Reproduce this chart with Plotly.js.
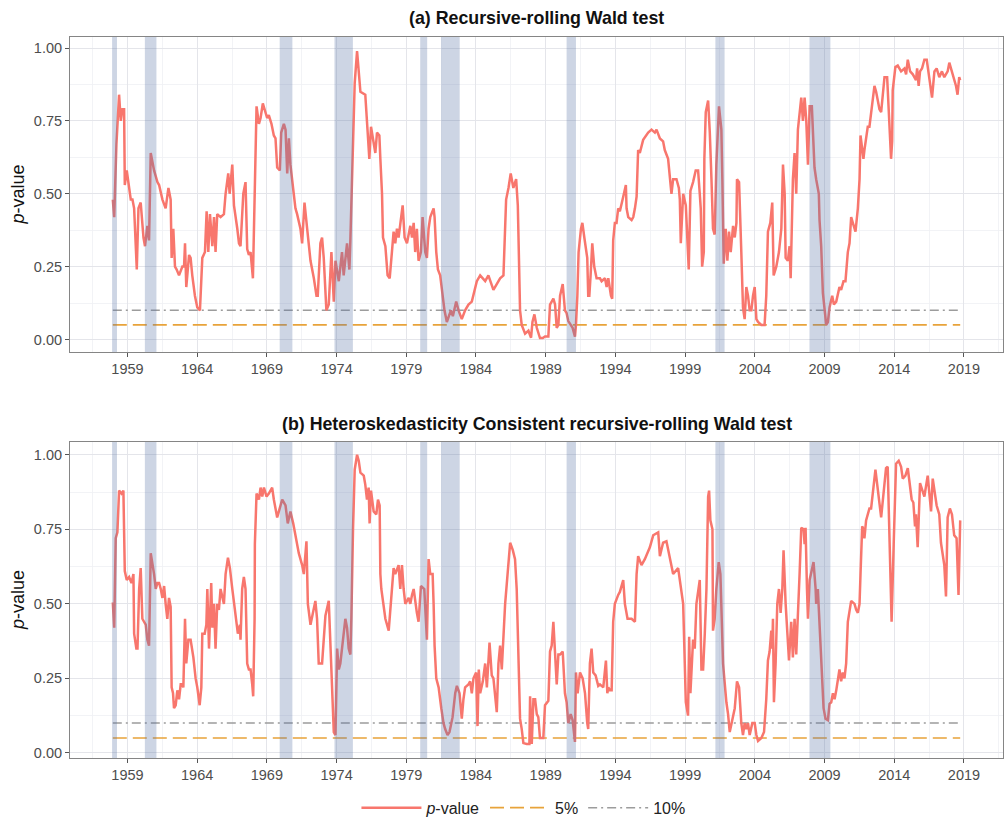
<!DOCTYPE html>
<html>
<head>
<meta charset="utf-8">
<script src="https://cdn.plot.ly/plotly-3.0.1.min.js"></script>
<style>html,body{margin:0;padding:0;background:#fff;}#chart{width:1004px;height:829px;}</style>
</head>
<body>
<div id="chart"></div>
<script>
// ---------- data ----------
const yearsA = [1957.95,1958.05,1958.21,1958.40,1958.52,1958.64,1958.76,1958.81,1958.95,1959.12,1959.24,1959.36,1959.48,1959.67,1959.79,1959.95,1960.15,1960.26,1960.43,1960.55,1960.67,1960.91,1961.15,1961.27,1961.51,1961.74,1961.94,1962.10,1962.17,1962.29,1962.41,1962.53,1962.70,1962.94,1963.06,1963.13,1963.22,1963.42,1963.53,1963.65,1963.84,1964.01,1964.20,1964.37,1964.49,1964.56,1964.68,1964.80,1964.92,1965.09,1965.21,1965.32,1965.44,1965.68,1965.92,1966.04,1966.23,1966.33,1966.52,1966.64,1966.88,1967.00,1967.11,1967.31,1967.47,1967.59,1967.71,1967.83,1968.00,1968.12,1968.26,1968.43,1968.55,1968.71,1968.90,1969.02,1969.14,1969.33,1969.50,1969.62,1969.74,1969.93,1970.03,1970.22,1970.34,1970.46,1970.58,1970.69,1970.93,1971.05,1971.17,1971.41,1971.53,1971.70,1971.89,1972.13,1972.37,1972.56,1972.65,1972.84,1972.96,1973.08,1973.27,1973.44,1973.63,1973.80,1973.92,1974.16,1974.39,1974.51,1974.75,1974.92,1974.99,1975.16,1975.30,1975.47,1975.59,1975.71,1976.06,1976.18,1976.35,1976.47,1976.61,1976.78,1976.90,1977.07,1977.14,1977.26,1977.33,1977.50,1977.66,1977.81,1977.97,1978.09,1978.21,1978.33,1978.45,1978.74,1978.88,1979.05,1979.29,1979.41,1979.53,1979.64,1979.76,1979.88,1980.05,1980.17,1980.36,1980.48,1980.60,1980.72,1980.96,1981.03,1981.15,1981.27,1981.43,1981.63,1981.74,1981.91,1982.03,1982.20,1982.34,1982.58,1982.75,1982.98,1983.22,1983.46,1983.70,1984.06,1984.30,1984.66,1984.89,1985.25,1985.49,1985.73,1985.97,1986.16,1986.33,1986.49,1986.68,1986.88,1987.00,1987.09,1987.16,1987.28,1987.52,1987.76,1987.95,1988.05,1988.19,1988.36,1988.47,1988.59,1988.79,1988.95,1989.19,1989.31,1989.55,1989.67,1989.79,1989.91,1990.03,1990.22,1990.38,1990.50,1990.62,1990.79,1990.93,1991.10,1991.17,1991.27,1991.36,1991.53,1991.63,1991.77,1991.89,1991.98,1992.05,1992.13,1992.22,1992.34,1992.48,1992.65,1992.89,1993.01,1993.25,1993.37,1993.49,1993.68,1993.77,1993.84,1993.96,1994.08,1994.20,1994.32,1994.56,1994.75,1994.80,1994.92,1995.16,1995.28,1995.40,1995.52,1995.63,1995.75,1995.99,1996.35,1996.59,1996.83,1996.95,1997.19,1997.42,1997.54,1997.78,1997.90,1998.02,1998.14,1998.38,1998.55,1998.62,1998.69,1998.86,1999.05,1999.26,1999.38,1999.57,1999.76,1999.93,2000.05,2000.12,2000.22,2000.34,2000.38,2000.48,2000.65,2000.77,2000.89,2001.00,2001.12,2001.24,2001.43,2001.60,2001.67,2001.77,2001.91,2002.03,2002.15,2002.27,2002.44,2002.56,2002.68,2002.72,2002.87,2002.91,2003.03,2003.15,2003.27,2003.39,2003.51,2003.63,2003.75,2003.87,2003.99,2004.11,2004.23,2004.47,2004.70,2004.82,2004.94,2005.11,2005.25,2005.35,2005.54,2005.73,2005.90,2006.02,2006.14,2006.21,2006.37,2006.49,2006.57,2006.73,2006.85,2006.97,2007.09,2007.33,2007.45,2007.57,2007.69,2007.81,2007.93,2008.09,2008.28,2008.40,2008.59,2008.64,2008.76,2008.88,2009.00,2009.12,2009.24,2009.36,2009.55,2009.67,2009.84,2009.95,2010.07,2010.19,2010.36,2010.50,2010.67,2010.79,2010.91,2011.03,2011.22,2011.39,2011.51,2011.58,2011.79,2011.86,2011.98,2012.10,2012.22,2012.46,2012.58,2012.70,2012.94,2013.06,2013.30,2013.49,2013.61,2013.77,2013.85,2013.89,2014.08,2014.25,2014.49,2014.73,2014.85,2014.97,2015.14,2015.33,2015.56,2015.64,2015.75,2015.85,2015.99,2016.16,2016.33,2016.52,2016.71,2016.88,2017.04,2017.23,2017.42,2017.59,2017.83,2017.95,2018.24,2018.43,2018.54,2018.66,2018.73];
const pA = [0.48,0.42,0.67,0.84,0.75,0.79,0.79,0.53,0.58,0.52,0.48,0.48,0.45,0.24,0.45,0.47,0.35,0.32,0.39,0.34,0.64,0.58,0.54,0.53,0.48,0.45,0.52,0.48,0.28,0.38,0.25,0.24,0.22,0.25,0.25,0.33,0.18,0.29,0.28,0.22,0.15,0.11,0.10,0.28,0.29,0.30,0.44,0.30,0.43,0.32,0.42,0.30,0.43,0.42,0.43,0.50,0.57,0.50,0.60,0.46,0.38,0.33,0.32,0.50,0.54,0.31,0.29,0.30,0.21,0.50,0.80,0.74,0.76,0.81,0.78,0.76,0.77,0.74,0.70,0.69,0.59,0.58,0.71,0.74,0.72,0.57,0.69,0.60,0.50,0.45,0.43,0.38,0.33,0.47,0.38,0.27,0.21,0.15,0.15,0.33,0.35,0.28,0.10,0.12,0.30,0.13,0.27,0.20,0.30,0.22,0.33,0.24,0.34,0.60,0.88,0.99,0.93,0.85,0.84,0.74,0.62,0.73,0.69,0.64,0.71,0.70,0.62,0.50,0.35,0.32,0.22,0.21,0.30,0.37,0.33,0.38,0.35,0.46,0.35,0.33,0.39,0.35,0.40,0.30,0.38,0.27,0.30,0.42,0.30,0.28,0.38,0.42,0.45,0.42,0.30,0.24,0.22,0.15,0.10,0.06,0.08,0.10,0.08,0.13,0.10,0.07,0.10,0.12,0.13,0.20,0.22,0.20,0.22,0.17,0.19,0.21,0.22,0.48,0.52,0.57,0.52,0.55,0.46,0.30,0.10,0.05,0.02,0.03,0.006,0.06,0.086,0.04,0.02,0.005,0.005,0.01,0.01,0.12,0.14,0.12,0.04,0.05,0.15,0.19,0.10,0.09,0.063,0.05,0.04,0.01,0.05,0.15,0.30,0.38,0.40,0.35,0.30,0.28,0.15,0.15,0.22,0.33,0.25,0.21,0.21,0.20,0.21,0.18,0.21,0.15,0.14,0.34,0.40,0.40,0.45,0.44,0.49,0.53,0.45,0.42,0.41,0.42,0.45,0.49,0.65,0.64,0.685,0.71,0.72,0.71,0.72,0.69,0.68,0.65,0.62,0.55,0.50,0.55,0.55,0.52,0.48,0.33,0.50,0.46,0.24,0.51,0.54,0.58,0.58,0.50,0.45,0.25,0.30,0.62,0.78,0.82,0.71,0.55,0.38,0.36,0.60,0.80,0.72,0.55,0.26,0.38,0.27,0.37,0.30,0.39,0.35,0.40,0.55,0.54,0.45,0.30,0.11,0.07,0.18,0.15,0.10,0.10,0.15,0.18,0.07,0.06,0.05,0.05,0.15,0.37,0.40,0.47,0.22,0.25,0.30,0.38,0.60,0.50,0.28,0.27,0.32,0.21,0.55,0.64,0.50,0.72,0.83,0.75,0.83,0.75,0.60,0.80,0.80,0.59,0.55,0.50,0.41,0.32,0.16,0.11,0.05,0.06,0.11,0.15,0.12,0.13,0.15,0.18,0.17,0.20,0.20,0.30,0.33,0.42,0.40,0.37,0.45,0.55,0.70,0.62,0.65,0.70,0.73,0.73,0.83,0.87,0.85,0.79,0.78,0.90,0.90,0.78,0.62,0.68,0.855,0.935,0.94,0.92,0.93,0.91,0.96,0.92,0.91,0.89,0.93,0.87,0.92,0.93,0.96,0.96,0.90,0.83,0.92,0.93,0.90,0.92,0.90,0.92,0.95,0.90,0.87,0.84,0.90,0.89];

const yearsB = [1957.95,1958.05,1958.16,1958.28,1958.40,1958.57,1958.71,1958.81,1958.95,1959.12,1959.29,1959.43,1959.48,1959.64,1959.72,1959.84,1959.95,1960.07,1960.19,1960.31,1960.43,1960.55,1960.67,1960.79,1960.91,1961.03,1961.15,1961.27,1961.39,1961.51,1961.63,1961.74,1961.86,1961.98,1962.10,1962.17,1962.27,1962.34,1962.46,1962.58,1962.70,1962.82,1962.94,1963.01,1963.13,1963.22,1963.37,1963.53,1963.73,1963.89,1964.01,1964.18,1964.30,1964.37,1964.54,1964.66,1964.73,1964.85,1964.92,1965.01,1965.09,1965.21,1965.32,1965.44,1965.56,1965.68,1965.92,1966.04,1966.21,1966.35,1966.52,1966.64,1966.76,1966.92,1967.07,1967.11,1967.23,1967.35,1967.47,1967.59,1967.71,1967.83,1967.95,1968.02,1968.12,1968.14,1968.26,1968.43,1968.55,1968.67,1968.79,1968.98,1969.14,1969.38,1969.50,1969.74,1970.10,1970.34,1970.50,1970.69,1970.89,1971.05,1971.29,1971.53,1971.65,1971.84,1971.94,1972.13,1972.32,1972.48,1972.60,1972.72,1972.96,1973.20,1973.44,1973.56,1973.68,1973.80,1973.92,1974.04,1974.16,1974.27,1974.39,1974.51,1974.63,1974.75,1974.87,1974.99,1975.06,1975.18,1975.30,1975.47,1975.59,1975.71,1975.95,1976.06,1976.18,1976.30,1976.37,1976.47,1976.54,1976.66,1976.85,1976.97,1977.09,1977.14,1977.21,1977.33,1977.50,1977.74,1977.86,1977.97,1978.09,1978.21,1978.45,1978.57,1978.69,1978.81,1978.93,1979.17,1979.29,1979.41,1979.53,1979.76,1979.88,1980.05,1980.29,1980.48,1980.60,1980.72,1980.89,1980.96,1981.03,1981.15,1981.32,1981.51,1981.67,1981.79,1981.96,1982.10,1982.20,1982.32,1982.51,1982.63,1982.82,1982.98,1983.10,1983.22,1983.46,1983.58,1983.70,1983.82,1984.01,1984.11,1984.20,1984.30,1984.49,1984.66,1984.78,1984.97,1985.13,1985.25,1985.49,1985.61,1985.73,1985.85,1986.09,1986.33,1986.45,1986.64,1986.80,1986.92,1987.04,1987.16,1987.28,1987.40,1987.64,1987.83,1987.88,1988.00,1988.12,1988.24,1988.36,1988.47,1988.59,1988.83,1988.95,1989.19,1989.31,1989.43,1989.55,1989.67,1989.79,1989.91,1990.03,1990.22,1990.38,1990.50,1990.62,1990.79,1990.93,1991.10,1991.17,1991.29,1991.46,1991.65,1991.82,1991.98,1992.05,1992.17,1992.29,1992.41,1992.58,1992.77,1992.89,1993.13,1993.32,1993.42,1993.49,1993.61,1993.73,1993.84,1993.96,1994.20,1994.32,1994.56,1994.68,1994.87,1995.16,1995.40,1995.52,1995.63,1995.87,1996.11,1996.47,1996.71,1997.07,1997.19,1997.42,1997.66,1997.78,1998.02,1998.14,1998.50,1998.74,1998.86,1999.05,1999.21,1999.29,1999.38,1999.57,1999.69,1999.81,1999.93,2000.05,2000.17,2000.29,2000.41,2000.53,2000.65,2000.72,2000.81,2000.96,2001.00,2001.12,2001.24,2001.41,2001.53,2001.60,2001.72,2001.96,2002.08,2002.20,2002.32,2002.44,2002.56,2002.72,2002.87,2003.03,2003.15,2003.27,2003.39,2003.51,2003.63,2003.82,2003.99,2004.11,2004.23,2004.47,2004.66,2004.82,2004.94,2005.06,2005.18,2005.25,2005.30,2005.37,2005.49,2005.61,2005.73,2005.85,2005.97,2006.06,2006.21,2006.45,2006.61,2006.73,2006.85,2006.97,2007.09,2007.21,2007.33,2007.50,2007.57,2007.64,2007.74,2007.81,2007.93,2008.09,2008.21,2008.36,2008.40,2008.52,2008.59,2008.69,2008.83,2008.93,2009.07,2009.24,2009.36,2009.48,2009.60,2009.72,2009.84,2010.07,2010.19,2010.31,2010.43,2010.55,2010.67,2010.79,2010.91,2011.15,2011.27,2011.39,2011.51,2011.58,2011.70,2011.79,2011.86,2011.98,2012.22,2012.34,2012.65,2013.06,2013.41,2013.53,2013.69,2013.81,2013.96,2014.13,2014.32,2014.49,2014.61,2014.80,2014.97,2015.14,2015.25,2015.37,2015.49,2015.56,2015.68,2015.85,2016.04,2016.16,2016.40,2016.52,2016.64,2016.76,2016.88,2017.04,2017.23,2017.35,2017.59,2017.71,2017.83,2017.99,2018.14,2018.30,2018.47,2018.61,2018.73];
const pB = [0.505,0.42,0.72,0.74,0.88,0.87,0.88,0.61,0.58,0.59,0.57,0.60,0.40,0.35,0.35,0.55,0.62,0.45,0.44,0.43,0.38,0.36,0.67,0.64,0.60,0.55,0.57,0.57,0.55,0.52,0.56,0.50,0.45,0.52,0.49,0.22,0.20,0.15,0.16,0.21,0.18,0.23,0.23,0.22,0.45,0.30,0.38,0.38,0.32,0.25,0.22,0.16,0.22,0.40,0.40,0.43,0.55,0.35,0.48,0.57,0.42,0.50,0.35,0.50,0.48,0.55,0.50,0.60,0.655,0.62,0.55,0.50,0.45,0.40,0.43,0.38,0.55,0.59,0.55,0.30,0.28,0.28,0.23,0.19,0.45,0.70,0.87,0.85,0.89,0.86,0.89,0.86,0.87,0.89,0.85,0.79,0.85,0.83,0.77,0.81,0.77,0.73,0.67,0.63,0.60,0.71,0.50,0.43,0.48,0.51,0.45,0.30,0.30,0.46,0.51,0.37,0.17,0.07,0.06,0.35,0.28,0.30,0.35,0.40,0.45,0.42,0.35,0.33,0.45,0.75,0.95,1.00,0.98,0.94,0.93,0.90,0.85,0.89,0.77,0.88,0.85,0.81,0.80,0.85,0.83,0.60,0.55,0.50,0.45,0.41,0.48,0.55,0.62,0.60,0.63,0.55,0.63,0.55,0.50,0.52,0.50,0.53,0.55,0.47,0.44,0.56,0.55,0.38,0.65,0.60,0.60,0.50,0.36,0.25,0.22,0.15,0.10,0.08,0.06,0.07,0.10,0.12,0.20,0.225,0.20,0.115,0.18,0.22,0.23,0.24,0.20,0.25,0.27,0.09,0.28,0.20,0.24,0.30,0.22,0.37,0.26,0.25,0.137,0.30,0.36,0.28,0.50,0.65,0.705,0.68,0.65,0.55,0.30,0.115,0.08,0.033,0.03,0.03,0.19,0.03,0.18,0.18,0.13,0.12,0.05,0.05,0.16,0.175,0.34,0.36,0.44,0.35,0.23,0.33,0.33,0.34,0.20,0.17,0.10,0.13,0.11,0.037,0.27,0.20,0.27,0.25,0.20,0.10,0.08,0.30,0.35,0.27,0.26,0.225,0.23,0.22,0.31,0.20,0.22,0.21,0.21,0.44,0.50,0.53,0.54,0.58,0.50,0.45,0.45,0.44,0.60,0.66,0.63,0.65,0.69,0.73,0.74,0.66,0.705,0.71,0.68,0.62,0.60,0.62,0.55,0.50,0.17,0.125,0.39,0.20,0.38,0.35,0.50,0.55,0.58,0.28,0.28,0.40,0.55,0.86,0.88,0.78,0.75,0.41,0.45,0.55,0.64,0.60,0.50,0.30,0.17,0.13,0.07,0.10,0.12,0.15,0.24,0.22,0.10,0.06,0.10,0.08,0.10,0.06,0.10,0.10,0.06,0.04,0.05,0.07,0.18,0.31,0.34,0.41,0.35,0.45,0.17,0.30,0.50,0.55,0.47,0.55,0.68,0.50,0.31,0.44,0.32,0.45,0.33,0.45,0.60,0.755,0.75,0.70,0.755,0.55,0.45,0.58,0.62,0.64,0.55,0.50,0.55,0.48,0.35,0.26,0.15,0.115,0.11,0.165,0.17,0.20,0.18,0.21,0.28,0.24,0.27,0.25,0.30,0.44,0.48,0.51,0.50,0.48,0.47,0.50,0.60,0.76,0.75,0.72,0.78,0.82,0.82,0.95,0.79,0.955,0.96,0.60,0.44,0.70,0.97,0.98,0.96,0.92,0.93,0.955,0.90,0.85,0.84,0.76,0.80,0.69,0.905,0.88,0.86,0.93,0.88,0.81,0.92,0.88,0.83,0.80,0.705,0.63,0.525,0.79,0.82,0.80,0.73,0.72,0.53,0.78];

// NBER recessions (decimal years, clipped to sample start)
const recStart = [1957.90, 1960.25, 1969.92, 1973.85, 1980.00, 1981.50, 1990.50, 2001.17, 2007.92];
const recEnd   = [1958.25, 1961.08, 1970.83, 1975.17, 1980.50, 1982.83, 1991.17, 2001.83, 2009.42];

const level5 = 0.05, level10 = 0.10;
const xTicks = [1959,1964,1969,1974,1979,1984,1989,1994,1999,2004,2009,2014,2019];
const yTicks = [0, 0.25, 0.5, 0.75, 1.0];
const panelTitles = ['<b>(a) Recursive-rolling Wald test</b>', '<b>(b) Heteroskedasticity Consistent recursive-rolling Wald test</b>'];

// ---------- styling ----------
const FONT = 'Liberation Sans, Arial, Helvetica, sans-serif';
const RED = '#F8766D', ORANGE = '#E8A33A', GREY = '#9c9c9c';
const BAND = 'rgba(88,115,165,0.30)';

function seriesTraces(xs, ys, xa, ya, showLeg) {
  const x0 = xs[0], x1 = xs[xs.length - 1];
  return [
    {x: [x0, x1], y: [level10, level10], xaxis: xa, yaxis: ya, mode: 'lines', name: '10%',
     legendgroup: 'g10', showlegend: showLeg, legendrank: 3,
     line: {color: GREY, width: 1.5, dash: '9px,4px,2px,4px'}, hoverinfo: 'skip'},
    {x: [x0, x1], y: [level5, level5], xaxis: xa, yaxis: ya, mode: 'lines', name: '5%',
     legendgroup: 'g5', showlegend: showLeg, legendrank: 2,
     line: {color: ORANGE, width: 1.6, dash: '14px,6px'}, hoverinfo: 'skip'},
    {x: xs, y: ys, xaxis: xa, yaxis: ya, mode: 'lines', name: '<i>p</i>-value',
     legendgroup: 'gp', showlegend: showLeg, legendrank: 1,
     line: {color: RED, width: 2.5, shape: 'linear'}}
  ];
}

const traces = [].concat(seriesTraces(yearsA, pA, 'x', 'y', true), seriesTraces(yearsB, pB, 'x2', 'y2', false));

const shapes = [];
[['x', 'y domain'], ['x2', 'y2 domain']].forEach(([xr, yr]) => {
  recStart.forEach((s, i) => {
    shapes.push({type: 'rect', xref: xr, yref: yr, x0: s, x1: recEnd[i], y0: 0, y1: 1,
      fillcolor: BAND, line: {width: 0}, layer: 'above'});
  });
});

function xaxisDef(anchor) {
  return {
    anchor: anchor, domain: [0, 1], range: [1954.88, 2021.8],
    tickmode: 'array', tickvals: xTicks, ticktext: xTicks.map(String),
    ticks: 'outside', ticklen: 4, tickcolor: '#555', tickwidth: 1,
    tickfont: {family: FONT, size: 14.5, color: '#4d4d4d'},
    showgrid: true, gridcolor: '#e4e5ea', gridwidth: 1,
    minor: {tickmode: 'linear', tick0: 1956.5, dtick: 5, showgrid: true, gridcolor: '#eff0f4', gridwidth: 0.8, ticks: ''},
    showline: true, linecolor: '#858585', linewidth: 1, mirror: true, zeroline: false
  };
}
function yaxisDef(anchor, domain, range) {
  return {
    anchor: anchor, domain: domain, range: range,
    tickmode: 'array', tickvals: yTicks, ticktext: yTicks.map(v => v.toFixed(2)),
    ticks: 'outside', ticklen: 4, tickcolor: '#555', tickwidth: 1,
    tickfont: {family: FONT, size: 14.5, color: '#4d4d4d'},
    showgrid: true, gridcolor: '#e4e5ea', gridwidth: 1,
    minor: {tickmode: 'linear', tick0: 0.125, dtick: 0.25, showgrid: true, gridcolor: '#eff0f4', gridwidth: 0.8, ticks: ''},
    showline: true, linecolor: '#858585', linewidth: 1, mirror: true, zeroline: false
  };
}

const annotations = [
  {text: panelTitles[0], xref: 'paper', yref: 'paper', x: 0.5, y: 1.0263, xanchor: 'center', yanchor: 'middle',
   showarrow: false, font: {family: FONT, size: 17.8, color: '#111'}},
  {text: panelTitles[1], xref: 'paper', yref: 'paper', x: 0.5, y: 0.4632, xanchor: 'center', yanchor: 'middle',
   showarrow: false, font: {family: FONT, size: 17.8, color: '#111'}},
  {text: '<i>p</i>-value', xref: 'paper', yref: 'paper', x: -0.0557, y: 0.7816, xanchor: 'center', yanchor: 'middle',
   textangle: -90, showarrow: false, font: {family: FONT, size: 18, color: '#111'}},
  {text: '<i>p</i>-value', xref: 'paper', yref: 'paper', x: -0.0557, y: 0.2191, xanchor: 'center', yanchor: 'middle',
   textangle: -90, showarrow: false, font: {family: FONT, size: 18, color: '#111'}}
];

const layout = {
  width: 1004, height: 829,
  margin: {l: 70, r: 1, t: 37, b: 71},
  paper_bgcolor: '#fff', plot_bgcolor: '#fff',
  font: {family: FONT, color: '#222'},
  xaxis: xaxisDef('y'),
  yaxis: yaxisDef('x', [0.5631, 1], [-0.043, 1.038]),
  xaxis2: xaxisDef('y2'),
  yaxis2: yaxisDef('x2', [0, 0.4383], [-0.017, 1.043]),
  shapes: shapes,
  annotations: annotations,
  showlegend: true,
  legend: {orientation: 'h', x: 0.486, xanchor: 'center', y: -0.069, yanchor: 'middle',
           font: {family: FONT, size: 16, color: '#222'}, itemwidth: 60, traceorder: 'normal',
           bgcolor: 'rgba(0,0,0,0)'}
};

Plotly.newPlot('chart', traces, layout, {displayModeBar: false, staticPlot: true});
</script>
</body>
</html>
